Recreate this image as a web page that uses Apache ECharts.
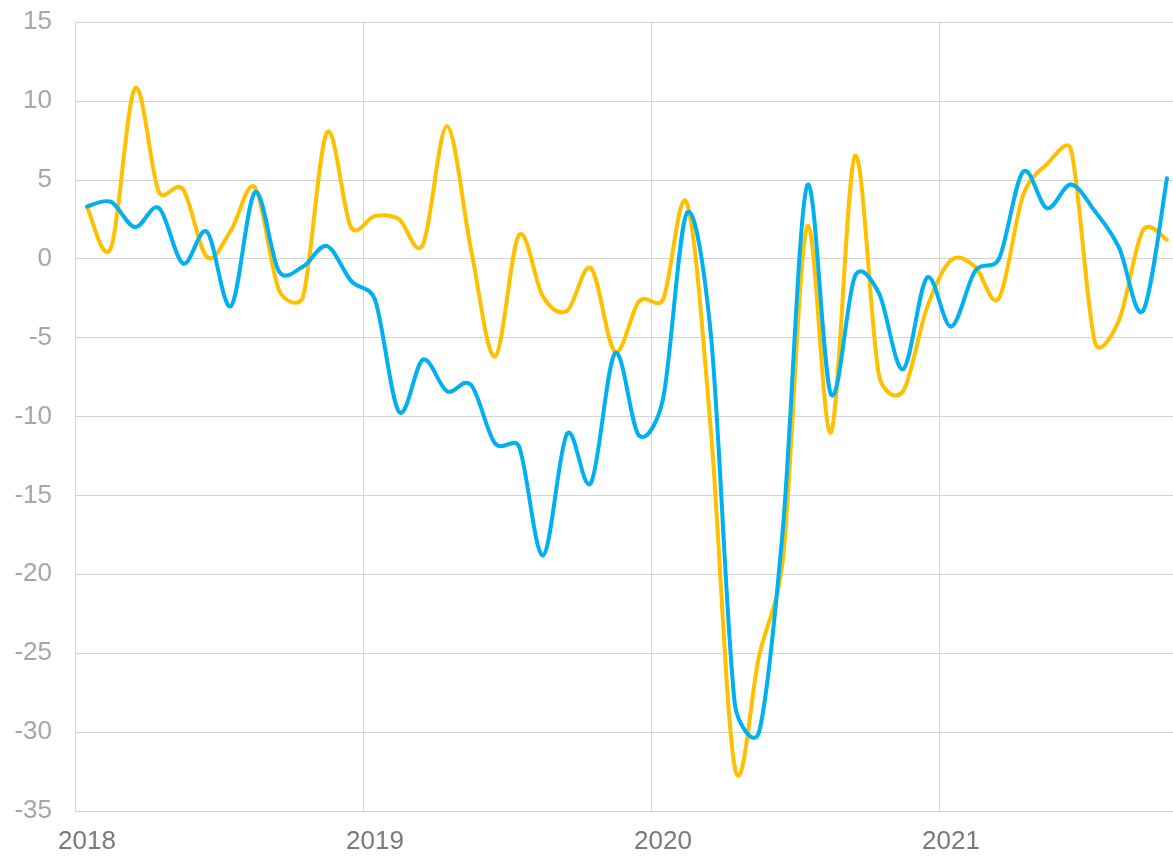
<!DOCTYPE html>
<html>
<head>
<meta charset="utf-8">
<script src="https://cdn.jsdelivr.net/npm/echarts@6/dist/echarts.min.js"></script>
<style>
  html, body { margin: 0; padding: 0; background: #fff; overflow: hidden; }
  #chart { width: 1179px; height: 856px; }
</style>
</head>
<body>
<div id="chart"></div>
<script>
// monthly, Jan 2018 .. Oct 2021
const years = ['2018', '2019', '2020', '2021']
const months = []
years.forEach(y => {
  for (let m = 1; m <= 12; m++) months.push(y + '-' + (m < 10 ? '0' + m : m))
})
months.length = 46

const yellowValues = [
  3.3, 0.7, 10.8, 4.2, 4.4, 0.1, 1.8, 4.5, -2.0, -2.4, 8.0, 2.0,
  2.7, 2.5, 0.9, 8.4, 0.6, -6.2, 1.5, -2.4, -3.3, -0.6, -5.9, -2.7,
  -2.6, 3.5, -11.0, -32.3, -25.2, -19.0, 2.0, -11.0, 6.5, -7.4, -8.4, -3.1,
  -0.1, -0.5, -2.5, 4.0, 6.0, 6.9, -5.3, -3.9, 1.8, 1.2
]
const blueValues = [
  3.3, 3.6, 2.0, 3.2, -0.3, 1.7, -3.0, 4.2, -0.8, -0.5, 0.8, -1.4,
  -2.6, -9.7, -6.4, -8.4, -8.0, -11.7, -11.9, -18.8, -11.1, -14.2, -6.0, -11.2,
  -8.9, 2.9, -4.9, -28.3, -30.0, -17.0, 4.6, -8.6, -1.1, -2.2, -7.0, -1.2,
  -4.3, -0.8, 0.0, 5.5, 3.2, 4.7, 3.0, 0.7, -3.3, 5.1
]

const gridColor = '#d4d4d4'

// spreadsheet-style smoothed line: one bezier piece per month,
// catmull-rom controls, each arm capped at half the piece length
function arm (a, b, len) {
  let dx = (b[0] - a[0]) / 6
  let dy = (b[1] - a[1]) / 6
  const l = Math.sqrt(dx * dx + dy * dy)
  if (l > len / 2) {
    dx *= len / 2 / l
    dy *= len / 2 / l
  }
  return [dx, dy]
}

function smoothLine (color) {
  return function (params, api) {
    const i = params.dataIndexInside
    const n = params.dataInsideLength
    if (i >= n - 1) return
    const pt = k => {
      k = Math.max(0, Math.min(n - 1, k))
      return api.coord([api.value(0, k), api.value(1, k)])
    }
    const p0 = pt(i - 1)
    const p1 = pt(i)
    const p2 = pt(i + 1)
    const p3 = pt(i + 2)
    const len = Math.sqrt((p2[0] - p1[0]) ** 2 + (p2[1] - p1[1]) ** 2)
    const a1 = arm(p0, p2, len)
    const a2 = arm(p1, p3, len)
    return {
      type: 'bezierCurve',
      shape: {
        x1: p1[0], y1: p1[1],
        cpx1: p1[0] + a1[0], cpy1: p1[1] + a1[1],
        cpx2: p2[0] - a2[0], cpy2: p2[1] - a2[1],
        x2: p2[0], y2: p2[1]
      },
      style: { stroke: color, lineWidth: 4, fill: null, lineCap: 'round' }
    }
  }
}

const chart = echarts.init(document.getElementById('chart'))
chart.setOption({
  animation: false,
  grid: { left: 75, right: 0, top: 22, bottom: 45 },
  xAxis: {
    type: 'category',
    boundaryGap: true,
    data: months,
    axisLine: { show: true, lineStyle: { color: gridColor, width: 1 } },
    axisTick: { show: false },
    axisLabel: {
      interval: 11,
      formatter: v => v.slice(0, 4),
      margin: 18,
      fontFamily: 'Liberation Sans',
      fontSize: 26,
      color: '#7a7a7a'
    },
    splitLine: { show: true, interval: 11, lineStyle: { color: gridColor, width: 1 } }
  },
  yAxis: {
    type: 'value',
    min: -35,
    max: 15,
    interval: 5,
    axisLine: { show: true, lineStyle: { color: gridColor, width: 1 } },
    axisTick: { show: false },
    axisLabel: {
      margin: 23,
      fontFamily: 'Liberation Sans',
      fontSize: 26,
      color: '#a6a6a6'
    },
    splitLine: { lineStyle: { color: gridColor, width: 1 } }
  },
  series: [
    {
      name: 'yellow',
      type: 'custom',
      renderItem: smoothLine('#ffc000'),
      encode: { x: 0, y: 1 },
      data: yellowValues.map((v, i) => [i, v])
    },
    {
      name: 'blue',
      type: 'custom',
      renderItem: smoothLine('#00b0f0'),
      encode: { x: 0, y: 1 },
      data: blueValues.map((v, i) => [i, v])
    }
  ]
})
</script>
</body>
</html>
